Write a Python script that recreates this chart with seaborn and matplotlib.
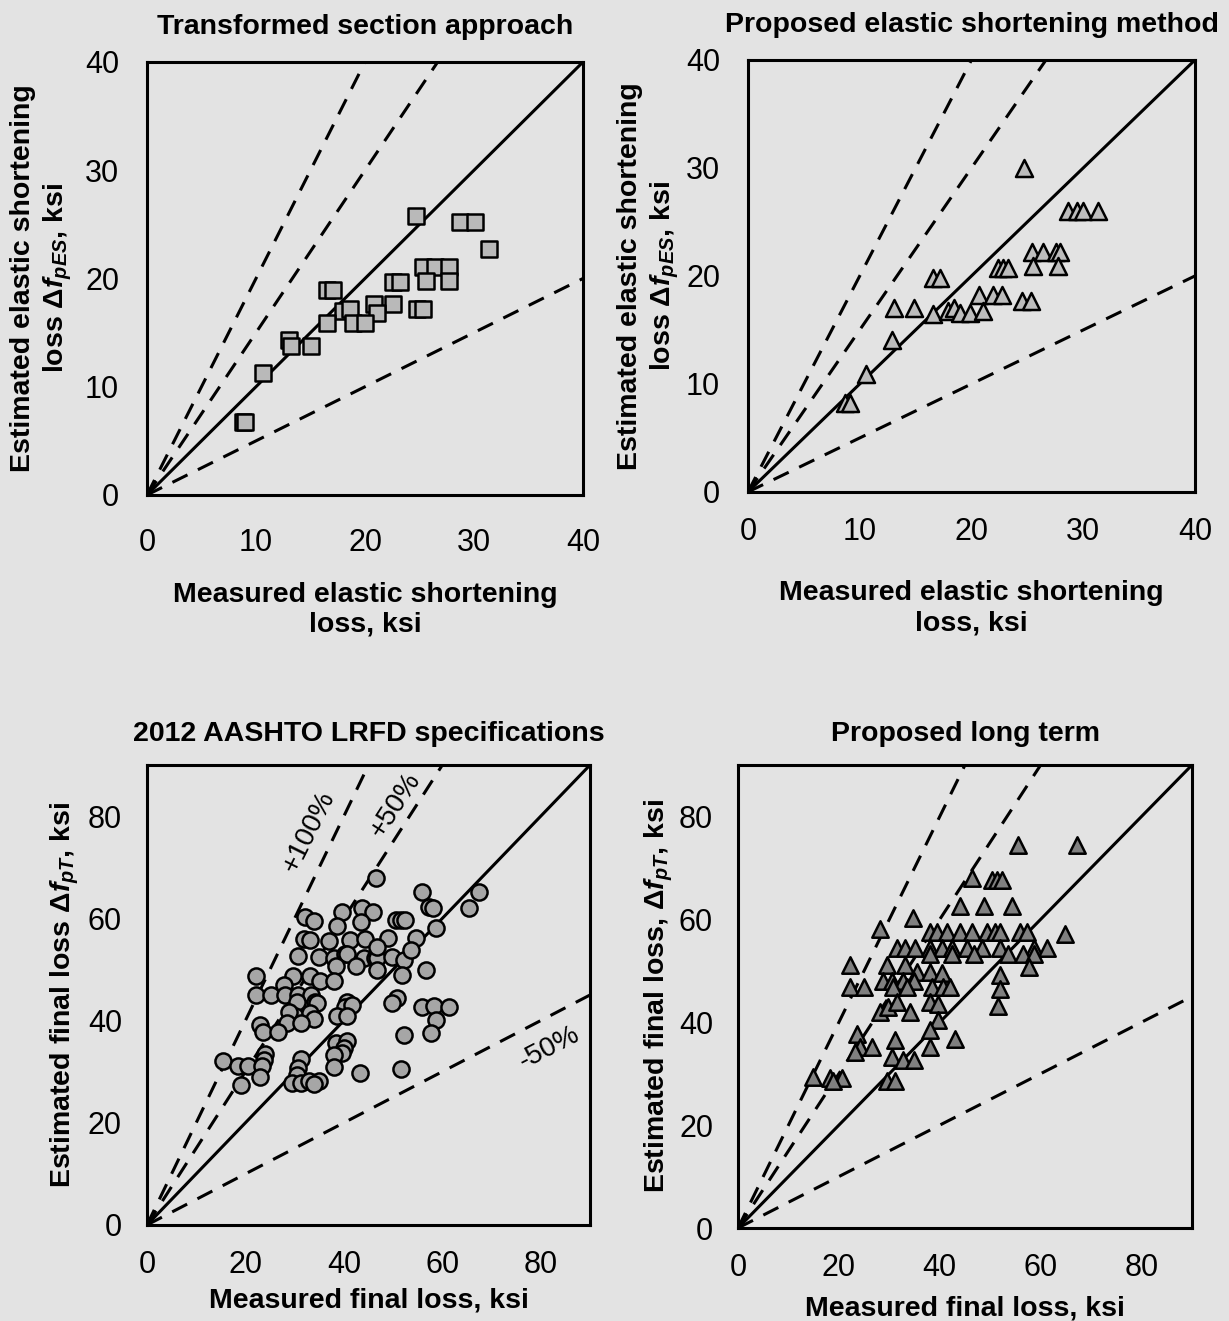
import numpy as np
import matplotlib
matplotlib.use("Agg")
import matplotlib.pyplot as plt
import seaborn as sns

# данные: упругое укорочение, метод приведённого сечения
x1 = [24.7, 28.7, 30.1, 31.4, 25.3, 26.4, 27.7, 25.6, 27.7, 22.6, 23.2, 16.5, 17.1, 18.0, 18.6,
      20.8, 22.6, 21.1, 24.8, 25.3, 16.5, 18.9, 20.0, 13.0, 13.2, 15.0, 10.6, 8.8, 9.0]
y1 = [25.8, 25.2, 25.2, 22.7, 21.1, 21.1, 21.1, 19.8, 19.8, 19.7, 19.7, 18.9, 18.9, 17.0, 17.2,
      17.6, 17.6, 16.8, 17.2, 17.2, 15.9, 15.9, 15.9, 14.3, 13.8, 13.8, 11.3, 6.7, 6.7]

# упругое укорочение, предложенный метод
x2 = [24.7, 28.6, 29.4, 30.0, 31.3, 25.4, 26.4, 27.6, 27.9, 25.5, 27.7, 22.4, 22.8, 23.3, 16.6,
      17.2, 20.7, 21.9, 22.7, 24.5, 25.3, 13.1, 14.9, 16.6, 17.9, 18.4, 19.0, 19.9, 21.0, 12.9,
      10.6, 8.7, 9.1]
y2 = [30.0, 26.0, 26.0, 26.0, 26.0, 22.2, 22.2, 22.2, 22.2, 20.9, 20.9, 20.7, 20.7, 20.7, 19.8,
      19.8, 18.2, 18.2, 18.2, 17.7, 17.7, 17.0, 17.0, 16.5, 16.8, 17.0, 16.6, 16.6, 16.8, 14.1,
      10.9, 8.2, 8.2]

# полные потери, AASHTO 2012
x3 = [46.6, 55.8, 57.2, 58.0, 67.5, 65.4, 32.0, 33.9, 39.6, 43.7,
      46.0, 43.4, 38.6, 50.5, 51.5, 52.5, 58.8, 31.8, 33.2, 36.9,
      41.3, 44.3, 48.9, 54.6, 30.7, 34.9, 37.9, 40.3, 40.7, 44.1,
      46.4, 46.8, 49.8, 52.3, 53.7, 46.8, 38.3, 42.4, 46.8, 56.6,
      51.9, 22.2, 29.7, 33.2, 35.2, 37.9, 27.8, 22.2, 25.1, 28.1,
      30.6, 33.3, 34.2, 34.6, 30.5, 40.7, 40.3, 41.7, 50.8, 49.8,
      55.9, 58.3, 61.4, 58.7, 57.6, 52.2, 30.1, 33.2, 34.0, 28.8,
      28.4, 31.2, 38.6, 40.7, 23.0, 23.6, 26.6, 38.3, 40.7, 40.0,
      39.6, 37.9, 37.9, 43.2, 51.7, 31.3, 30.7, 30.5, 29.5, 31.2,
      32.9, 34.9, 33.9, 15.4, 18.5, 20.6, 24.0, 23.7, 23.4, 23.0,
      19.1]
y3 = [67.8, 65.1, 62.3, 62.1, 65.1, 62.0, 60.2, 59.4, 61.3, 62.0,
      61.3, 59.2, 58.4, 59.7, 59.7, 59.7, 58.1, 55.9, 55.8, 55.5,
      55.8, 56.0, 56.1, 56.1, 52.7, 52.5, 52.2, 53.0, 53.0, 52.2,
      52.2, 52.2, 52.5, 51.8, 53.8, 54.4, 50.6, 50.6, 49.8, 49.9,
      48.9, 48.7, 48.7, 48.8, 47.7, 47.7, 47.0, 45.0, 45.0, 45.0,
      45.0, 45.0, 43.7, 43.4, 43.7, 43.7, 42.7, 43.0, 44.4, 43.4,
      42.7, 42.9, 42.7, 40.1, 37.5, 37.2, 40.8, 41.4, 40.3, 41.7,
      39.5, 39.5, 40.8, 40.8, 39.1, 37.8, 37.8, 35.6, 35.9, 34.6,
      33.6, 33.3, 31.0, 29.7, 30.5, 32.4, 30.7, 29.4, 27.8, 27.8,
      28.2, 28.2, 27.6, 32.0, 31.1, 31.1, 33.4, 32.3, 31.1, 29.0,
      27.4]

# полные потери, предложенный метод
x4 = [55.6, 67.2, 46.4, 50.3, 51.3, 52.3, 44.0, 48.7, 54.3, 34.7,
      28.2, 64.9, 38.1, 39.4, 41.4, 44.0, 46.4, 49.4, 51.0, 52.0,
      56.0, 57.3, 31.5, 33.1, 35.1, 38.1, 40.4, 42.4, 45.4, 48.4,
      52.0, 58.6, 61.3, 38.1, 42.4, 46.7, 53.6, 56.5, 58.6, 22.2,
      29.5, 33.1, 35.5, 38.1, 40.4, 28.8, 30.5, 32.8, 34.8, 22.2,
      24.9, 30.8, 33.5, 38.4, 40.7, 42.1, 52.0, 52.0, 57.6, 51.6,
      28.2, 29.8, 31.5, 34.1, 38.1, 39.7, 39.7, 38.1, 38.1, 43.1,
      31.2, 30.5, 32.8, 34.8, 23.5, 24.2, 23.2, 26.5, 14.9, 18.3,
      20.6, 18.9, 29.5, 31.2]
y4 = [74.4, 74.4, 68.1, 67.6, 67.6, 67.6, 62.5, 62.5, 62.5, 60.3,
      58.1, 57.1, 57.5, 57.5, 57.5, 57.5, 57.5, 57.5, 57.5, 57.5,
      57.5, 57.5, 54.5, 54.5, 54.5, 54.5, 54.5, 54.5, 54.5, 54.5,
      54.5, 54.5, 54.5, 53.2, 53.2, 53.2, 53.2, 53.2, 53.2, 51.1,
      51.1, 51.1, 49.8, 49.8, 49.5, 48.0, 48.0, 48.0, 48.0, 46.9,
      46.9, 46.8, 46.8, 46.8, 46.8, 46.8, 49.1, 46.5, 50.8, 43.1,
      42.0, 43.0, 44.0, 42.0, 44.0, 43.6, 40.4, 38.4, 35.2, 36.8,
      36.5, 33.3, 32.6, 32.6, 37.8, 35.2, 34.2, 35.2, 29.4, 29.1,
      29.1, 28.5, 28.5, 28.5]

titles = ["Transformed section approach", "Proposed elastic shortening method",
          "2012 AASHTO LRFD specifications", "Proposed long term"]
xlabels = ["Measured elastic shortening\nloss, ksi", "Measured elastic shortening\nloss, ksi",
           "Measured final loss, ksi", "Measured final loss, ksi"]
ylabels = ["Estimated elastic shortening\nloss $\\mathit{\\Delta f_{pES}}$, ksi",
           "Estimated elastic shortening\nloss $\\mathit{\\Delta f_{pES}}$, ksi",
           "Estimated final loss $\\mathit{\\Delta f_{pT}}$, ksi",
           "Estimated final loss, $\\mathit{\\Delta f_{pT}}$, ksi"]
ratios = [1.0, 2.0, 1.5, 0.5]  # линии 1:1, +100%, +50%, -50%

BG = "#e3e3e3"
sns.set_theme(style="white")
plt.rcParams.update({
    "font.family": ["Liberation Sans", "DejaVu Sans"],
    "mathtext.fontset": "custom",
    "mathtext.rm": "Liberation Sans:bold",
    "mathtext.it": "Liberation Sans:italic:bold",
    "mathtext.bf": "Liberation Sans:bold",
    "figure.facecolor": BG,
    "axes.facecolor": BG,
    "text.color": "black",
    "axes.labelcolor": "black",
    "xtick.color": "black",
    "ytick.color": "black",
})

fig = plt.figure(figsize=(12.29, 13.21), dpi=100)
# позиции осей [left, bottom, width, height]
rects = [[0.1196, 0.6253, 0.3548, 0.3278],
         [0.6086, 0.6276, 0.3637, 0.3270],
         [0.1196, 0.0727, 0.3605, 0.3482],
         [0.6005, 0.0704, 0.3694, 0.3505]]
axes = [fig.add_axes(r) for r in rects]

panels = [(x1, y1, "s", "#b9b9b9", 145, 40, 10),
          (x2, y2, "^", "#bdbdbd", 150, 40, 10),
          (x3, y3, "o", "#a6a6a6", 135, 90, 20),
          (x4, y4, "^", "#808080", 140, 90, 20)]

for i, (ax, (xs, ys, mk, col, sz, lim, step)) in enumerate(zip(axes, panels)):
    xx = np.array([0, lim])
    for k in ratios:
        ls = "-" if k == 1.0 else (0, (5.5, 3.8))
        ax.plot(xx, k * xx, color="black", lw=2.2, ls=ls, zorder=2)
    sns.scatterplot(x=xs, y=ys, ax=ax, marker=mk, s=sz, color=col,
                    edgecolor="black", linewidth=1.8, zorder=3)
    ax.set_xlim(0, lim)
    ax.set_ylim(0, lim)
    ticks = np.arange(0, lim + 1, step) if lim == 40 else np.arange(0, 81, 20)
    ax.set_xticks(ticks)
    ax.set_yticks(ticks)
    for sp in ax.spines.values():
        sp.set_color("black")
        sp.set_linewidth(2.2)
    ax.tick_params(axis="both", length=0, labelsize=22, colors="black")
    ax.tick_params(axis="x", pad=24 if i == 0 else 18)
    ax.tick_params(axis="y", pad=20 if i < 2 else 18)
    ax.set_title(titles[i], fontsize=20.5, fontweight="bold",
                 pad=20 if i < 2 else 17)
    ax.set_xlabel(xlabels[i], fontsize=20.5, fontweight="bold", linespacing=1.2)
    ax.set_ylabel(ylabels[i], fontsize=20.5, fontweight="bold", linespacing=1.25)

# подписи осей
axes[0].xaxis.set_label_coords(0.5, -0.20)
axes[1].xaxis.set_label_coords(0.5, -0.205)
axes[2].xaxis.set_label_coords(0.5, -0.135)
axes[3].xaxis.set_label_coords(0.5, -0.145)
axes[0].yaxis.set_label_coords(-0.168, 0.5)
axes[1].yaxis.set_label_coords(-0.150, 0.5)
axes[2].yaxis.set_label_coords(-0.150, 0.5)
axes[3].yaxis.set_label_coords(-0.138, 0.5)

# подписи процентов на нижнем левом графике
ax = axes[2]
ax.text(32.8, 76.9, "+100%", fontsize=20, rotation=63.5, ha="center", va="center")
ax.text(50.5, 82.2, "+50%", fontsize=20, rotation=57, ha="center", va="center")
ax.text(81.7, 34.6, "-50%", fontsize=20, rotation=27.5, ha="center", va="center")

fig.savefig("out.png", dpi=100, facecolor=BG)
